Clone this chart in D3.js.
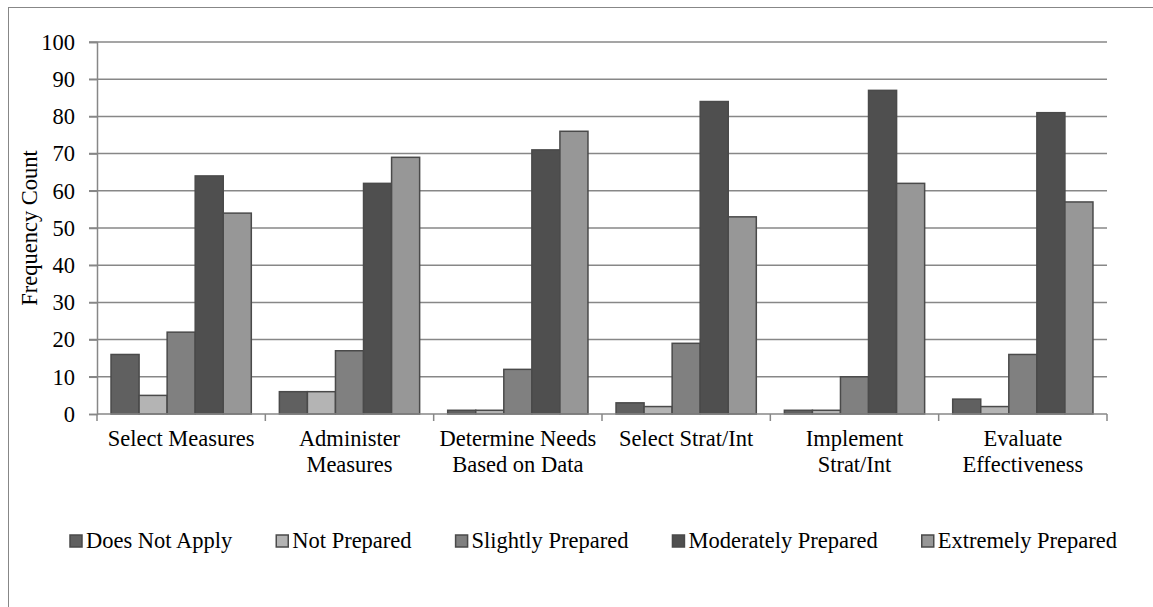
<!DOCTYPE html>
<html>
<head>
<meta charset="utf-8">
<script src="https://cdn.jsdelivr.net/npm/d3@7"></script>
<style>
  body { margin: 0; background: #fff; }
  text { font-family: "Liberation Serif", "Times New Roman", serif; fill: #000; }
</style>
</head>
<body>
<div id="chart"></div>
<script>
// data
var categories = [
  ["Select Measures"],
  ["Administer", "Measures"],
  ["Determine Needs", "Based on Data"],
  ["Select Strat/Int"],
  ["Implement", "Strat/Int"],
  ["Evaluate", "Effectiveness"]
];
var seriesNames = ["Does Not Apply", "Not Prepared", "Slightly Prepared", "Moderately Prepared", "Extremely Prepared"];
var doesNotApply = [16, 6, 1, 3, 1, 4];
var notPrepared = [5, 6, 1, 2, 1, 2];
var slightlyPrepared = [22, 17, 12, 19, 10, 16];
var moderatelyPrepared = [64, 62, 71, 84, 87, 81];
var extremelyPrepared = [54, 69, 76, 53, 62, 57];
var yTicks = [0, 10, 20, 30, 40, 50, 60, 70, 80, 90, 100];

var seriesValues = [doesNotApply, notPrepared, slightlyPrepared, moderatelyPrepared, extremelyPrepared];
var colors = ["#606060", "#b4b4b4", "#808080", "#4f4f4f", "#979797"];

var W = 1153, H = 607,
    plotLeft = 97, plotRight = 1107, plotTop = 42, plotBottom = 414,
    fontSize = 22.5;

var svg = d3.select("#chart").append("svg")
    .attr("width", W)
    .attr("height", H);

// chart frame
svg.append("rect")
    .attr("x", 8.5).attr("y", 7.5)
    .attr("width", W + 10).attr("height", H + 10)
    .attr("fill", "none")
    .attr("stroke", "#878787")
    .attr("stroke-width", 1);

var keys = categories.map(function(c) { return c.join(" "); });

var x0 = d3.scaleBand()
    .domain(keys)
    .range([plotLeft, plotRight])
    .padding(0);

var x1 = d3.scaleBand()
    .domain(seriesNames)
    .range([0, x0.bandwidth()])
    .paddingInner(0)
    .paddingOuter(0.5);

var y = d3.scaleLinear()
    .domain([0, 100])
    .range([plotBottom, plotTop]);

// gridlines
svg.append("g")
    .selectAll("line")
    .data(yTicks.filter(function(d) { return d > 0; }))
    .join("line")
    .attr("x1", plotLeft - 8).attr("x2", plotRight)
    .attr("y1", function(d) { return y(d); })
    .attr("y2", function(d) { return y(d); })
    .attr("stroke", "#878787")
    .attr("stroke-width", 1.5);

// bars
var data = [];
keys.forEach(function(k, i) {
  seriesNames.forEach(function(s, j) {
    data.push({ cat: k, series: s, value: seriesValues[j][i], color: colors[j] });
  });
});

svg.append("g")
    .selectAll("rect")
    .data(data)
    .join("rect")
    .attr("x", function(d) { return x0(d.cat) + x1(d.series); })
    .attr("y", function(d) { return y(d.value); })
    .attr("width", x1.bandwidth())
    .attr("height", function(d) { return y(0) - y(d.value); })
    .attr("fill", function(d) { return d.color; })
    .attr("stroke", "#4a4a4a")
    .attr("stroke-width", 1.5);

// y axis
var yAxis = svg.append("g")
    .attr("transform", "translate(" + plotLeft + ",0)")
    .call(d3.axisLeft(y).tickValues(yTicks).tickSize(8).tickPadding(14));
yAxis.selectAll("path, line").attr("stroke", "#878787").attr("stroke-width", 1.5);
yAxis.selectAll("text")
    .style("font-size", fontSize + "px")
    .style("font-family", '"Liberation Serif", "Times New Roman", serif');

// x axis line and boundary ticks
svg.append("line")
    .attr("x1", plotLeft).attr("x2", plotRight)
    .attr("y1", plotBottom).attr("y2", plotBottom)
    .attr("stroke", "#878787").attr("stroke-width", 1.5);

var bounds = keys.map(function(k) { return x0(k); }).concat([plotRight]);
svg.append("g")
    .selectAll("line")
    .data(bounds)
    .join("line")
    .attr("x1", function(d) { return d; }).attr("x2", function(d) { return d; })
    .attr("y1", plotBottom).attr("y2", plotBottom + 7)
    .attr("stroke", "#878787").attr("stroke-width", 1.5);

// category labels
var lab = svg.append("g")
    .selectAll("text")
    .data(categories)
    .join("text")
    .attr("x", function(d, i) { return x0(keys[i]) + x0.bandwidth() / 2; })
    .attr("y", 446)
    .attr("text-anchor", "middle")
    .style("font-size", fontSize + "px");
lab.selectAll("tspan")
    .data(function(d) { return d; })
    .join("tspan")
    .attr("x", function() { return d3.select(this.parentNode).attr("x"); })
    .attr("dy", function(d, i) { return i === 0 ? 0 : 26; })
    .text(function(d) { return d; });

// y axis title
svg.append("text")
    .attr("transform", "translate(37," + ((plotTop + plotBottom) / 2) + ") rotate(-90)")
    .attr("text-anchor", "middle")
    .style("font-size", fontSize + "px")
    .text("Frequency Count");

// legend
var legend = svg.append("g");
var lx = 70, ly = 548, gap = 44;
seriesNames.forEach(function(s, j) {
  legend.append("rect")
      .attr("x", lx).attr("y", ly - 13)
      .attr("width", 12).attr("height", 12)
      .attr("fill", colors[j])
      .attr("stroke", "#4a4a4a")
      .attr("stroke-width", 1.5);
  var t = legend.append("text")
      .attr("x", lx + 16).attr("y", ly)
      .style("font-size", fontSize + "px")
      .text(s);
  lx += 16 + t.node().getComputedTextLength() + gap;
});
</script>
</body>
</html>
